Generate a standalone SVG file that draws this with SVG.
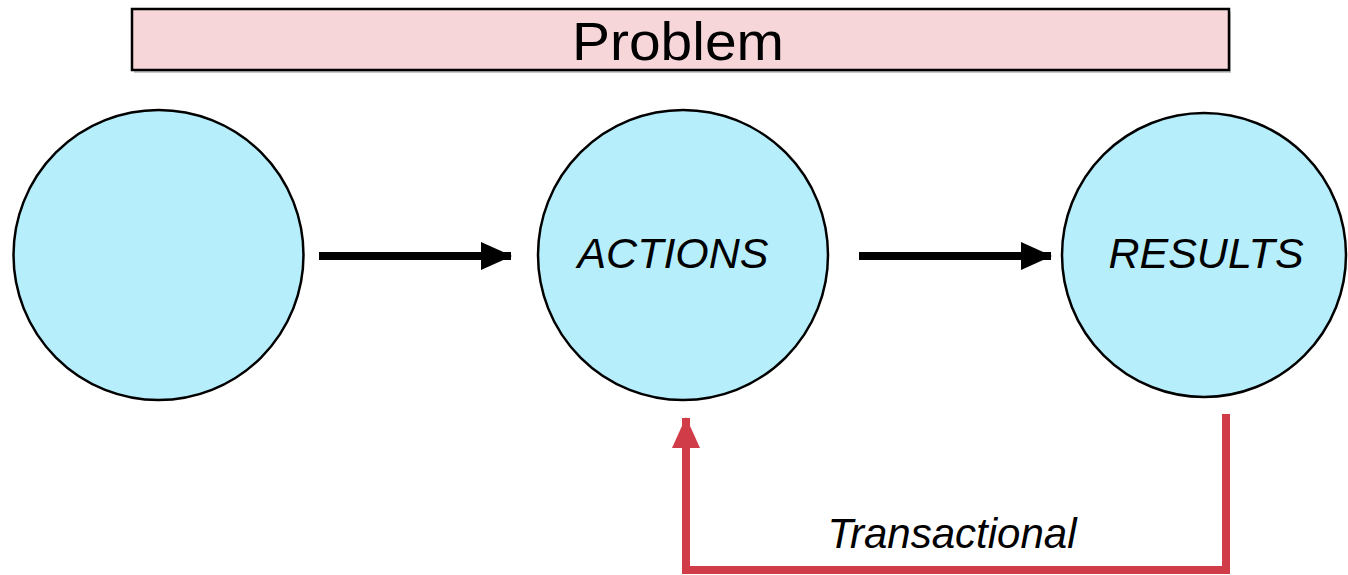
<svg xmlns="http://www.w3.org/2000/svg" width="1348" height="575" viewBox="0 0 1348 575">
<style>
.node circle{fill:#b6eefc;stroke:#000;stroke-width:2.5}
.lbl{font-family:"Liberation Sans",Arial,sans-serif;font-style:italic;fill:#000;text-anchor:middle}
.blk{stroke:#000;stroke-width:8;fill:none}
.red{stroke:#d03c47;stroke-width:8;fill:none}
</style>
<defs>
<marker id="ah" markerUnits="userSpaceOnUse" markerWidth="32" markerHeight="30" refX="30" refY="15" orient="auto">
<path d="M0,1 L31,15 L0,29 Z" fill="#000"/>
</marker>
<marker id="ahr" markerUnits="userSpaceOnUse" markerWidth="32" markerHeight="30" refX="30" refY="15" orient="auto">
<path d="M0,1 L31,15 L0,29 Z" fill="#d03c47"/>
</marker>
</defs>
<g id="problem">
<rect x="134" y="12" width="1097" height="61" fill="#c8c8c8"/>
<rect x="132" y="9" width="1097" height="61" fill="#f6d6d9" stroke="#000" stroke-width="2.5"/>
<text x="678" y="60" font-family="'Liberation Sans',Arial,sans-serif" font-size="53" text-anchor="middle" textLength="212" lengthAdjust="spacingAndGlyphs">Problem</text>
</g>
<g id="start" class="node"><circle cx="158.5" cy="255" r="145"/></g>
<g id="actions" class="node"><circle cx="683" cy="255" r="145"/><text class="lbl" x="673" y="268" font-size="43">ACTIONS</text></g>
<g id="results" class="node"><circle cx="1204" cy="255" r="142"/><text class="lbl" x="1206" y="268" font-size="43">RESULTS</text></g>
<g id="connectors">
<line class="blk" x1="319" y1="256" x2="511" y2="256" marker-end="url(#ah)"/>
<line class="blk" x1="859" y1="256" x2="1051" y2="256" marker-end="url(#ah)"/>
<polyline class="red" points="1226,414 1226,570 686,570 686,418" marker-end="url(#ahr)"/>
<text class="lbl" x="952" y="548" font-size="42">Transactional</text>
</g>
</svg>
